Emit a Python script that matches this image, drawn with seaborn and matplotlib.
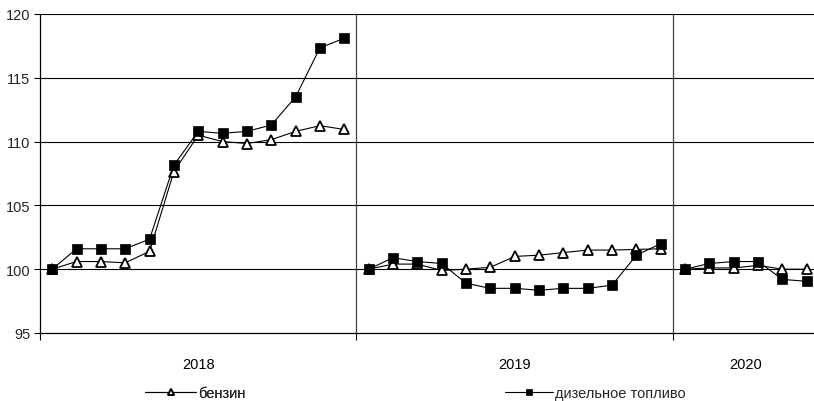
import matplotlib
matplotlib.use("Agg")
import matplotlib.pyplot as plt
import seaborn as sns
import pandas as pd
import numpy as np
from matplotlib.lines import Line2D

sns.set_theme(style="white")
plt.rcParams['font.family'] = ['Liberation Sans', 'DejaVu Sans']

years = ["2018", "2019", "2020"]
petrol_2018 = [100, 100.6, 100.6, 100.5, 101.4, 107.65, 110.5, 110.0, 109.85, 110.15, 110.8, 111.25, 110.95]
diesel_2018 = [100, 101.6, 101.6, 101.6, 102.35, 108.15, 110.8, 110.65, 110.8, 111.3, 113.5, 117.35, 118.1]
petrol_2019 = [100, 100.4, 100.4, 99.9, 100.0, 100.15, 101.0, 101.1, 101.3, 101.5, 101.5, 101.55, 101.6]
diesel_2019 = [100, 100.9, 100.6, 100.45, 98.9, 98.5, 98.5, 98.35, 98.5, 98.5, 98.75, 101.1, 102.0]
petrol_2020 = [100, 100.1, 100.1, 100.3, 100.0, 100.0]
diesel_2020 = [100, 100.45, 100.6, 100.6, 99.2, 99.05]
series_names = ["бензин", "дизельное топливо"]

petrol = [petrol_2018, petrol_2019, petrol_2020]
diesel = [diesel_2018, diesel_2019, diesel_2020]

rows = []
pos = 0
bounds = []
for yi, yr in enumerate(years):
    n = len(petrol[yi])
    start = pos
    for i in range(n):
        rows.append(dict(x=pos, value=petrol[yi][i], series=series_names[0], year=yr))
        rows.append(dict(x=pos, value=diesel[yi][i], series=series_names[1], year=yr))
        pos += 1
    bounds.append((start - 0.5, pos - 0.5))
df = pd.DataFrame(rows)

FS = 10.5
W, H = 814, 402
fig = plt.figure(figsize=(W / 100, H / 100), dpi=100)
left_px, right_px, top_px, bot_px = 40, 819, 15, 334
ax = fig.add_axes([left_px / W, (H - bot_px) / H, (right_px - left_px) / W, (bot_px - top_px) / H])

styles = {
    series_names[0]: dict(marker="^", markerfacecolor="white", markeredgecolor="black",
                          markersize=6.5, markeredgewidth=1.3),
    series_names[1]: dict(marker="s", markerfacecolor="black", markeredgecolor="black",
                          markersize=6.6, markeredgewidth=0.5),
}

for yr in years:
    for s in series_names:
        sub = df[(df.year == yr) & (df.series == s)]
        sns.lineplot(data=sub, x="x", y="value", ax=ax, color="black", linewidth=0.8,
                     estimator=None, legend=False, zorder=5 if s == series_names[1] else 4,
                     **styles[s])

ax.set_xlim(-0.5, pos - 0.5)
ax.set_ylim(95, 120)
ax.set_yticks([95, 100, 105, 110, 115, 120])
ax.set_yticklabels(["95", "100", "105", "110", "115", "120"])
for yv in [100, 105, 110, 115, 120]:
    ax.axhline(yv, color="black", linewidth=0.8, zorder=1)
for b in bounds[:-1]:
    ax.axvline(b[1], color="#444444", linewidth=0.9, zorder=1)

sep = [b[0] for b in bounds] + [bounds[-1][1]]
ax.set_xticks(sep)
ax.set_xticklabels([""] * len(sep))
centers = [(b[0] + b[1]) / 2 for b in bounds]
ax.set_xticks(centers, minor=True)
ax.set_xticklabels(years, minor=True)
ax.tick_params(axis="x", which="major", length=5, width=0.8, color="black", direction="out", bottom=True)
ax.tick_params(axis="x", which="minor", length=0, pad=17, labelsize=FS, colors="black")
ax.tick_params(axis="y", length=4, width=0.8, color="black", direction="out", left=True, labelsize=FS, pad=3)
ax.set_xlabel("")
ax.set_ylabel("")
for sp in ["top", "right"]:
    ax.spines[sp].set_visible(False)
for sp in ["left", "bottom"]:
    ax.spines[sp].set_color("black")
    ax.spines[sp].set_linewidth(0.9)
ax.set_facecolor("white")

lstyles = {
    series_names[0]: dict(marker="^", markerfacecolor="white", markeredgecolor="black",
                          markersize=5, markeredgewidth=1.3),
    series_names[1]: dict(marker="s", markerfacecolor="black", markeredgecolor="black",
                          markersize=5, markeredgewidth=0.5),
}
h1 = Line2D([], [], color="black", linewidth=0.8, **lstyles[series_names[0]])
h2 = Line2D([], [], color="black", linewidth=0.8, **lstyles[series_names[1]])
leg1 = fig.legend(handles=[h1], labels=[series_names[0]], loc="center left",
                  bbox_to_anchor=(145 / W, 1 - 394 / H), frameon=False, fontsize=FS,
                  handlelength=3.5, handletextpad=0.15, borderpad=0, borderaxespad=0)
fig.legend(handles=[h2], labels=[series_names[1]], loc="center left",
           bbox_to_anchor=(505 / W, 1 - 394 / H), frameon=False, fontsize=FS,
           handlelength=3.3, handletextpad=0.15, borderpad=0, borderaxespad=0)
fig.add_artist(leg1)

fig.savefig("out.png", dpi=100, facecolor="white")
